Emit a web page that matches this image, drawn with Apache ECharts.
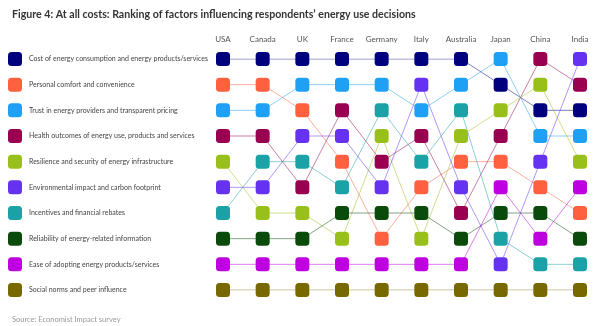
<!DOCTYPE html>
<html>
<head>
<meta charset="utf-8">
<script src="https://cdn.jsdelivr.net/npm/echarts@6/dist/echarts.min.js"></script>
<style>html,body{margin:0;padding:0;background:#fff;}#main{width:600px;height:326px;}</style>
</head>
<body>
<div id="main"></div>
<script>
const countries = ['USA','Canada','UK','France','Germany','Italy','Australia','Japan','China','India'];
const factors = [
  'Cost of energy consumption and energy products/services',
  'Personal comfort and convenience',
  'Trust in energy providers and transparent pricing',
  'Health outcomes of energy use, products and services',
  'Resilience and security of energy infrastructure',
  'Environmental impact and carbon footprint',
  'Incentives and financial rebates',
  'Reliability of energy-related information',
  'Ease of adopting energy products/services',
  'Social norms and peer influence'
];
// rank of each factor in each country (1 = most important)
const costRanks        = [1,1,1,1,1,1,1,2,3,3];
const comfortRanks     = [2,2,3,5,8,6,5,5,6,7];
const trustRanks       = [3,3,2,2,2,3,2,1,4,4];
const healthRanks      = [4,4,6,3,5,4,7,4,1,2];
const resilienceRanks  = [5,7,7,8,4,8,4,3,2,5];
const environmentRanks = [6,6,4,4,6,2,6,9,5,1];
const incentivesRanks  = [7,5,5,6,3,5,3,8,9,9];
const reliabilityRanks = [8,8,8,7,7,7,8,7,7,8];
const easeRanks        = [9,9,9,9,9,9,9,6,8,6];
const socialRanks      = [10,10,10,10,10,10,10,10,10,10];
const rankValues = [costRanks, comfortRanks, trustRanks, healthRanks, resilienceRanks,
  environmentRanks, incentivesRanks, reliabilityRanks, easeRanks, socialRanks];
const colors = ['#00007f','#ff6040','#1ea0f5','#990050','#99c01a','#6432f0','#1aa2a6','#0a4a0a','#be00e0','#786800'];
const FONT = 'Lato';

const series = [];
factors.forEach((f, i) => {
  series.push({
    name: f, type: 'line', data: rankValues[i], showSymbol: false, z: 2,
    itemStyle: {color: colors[i]},
    lineStyle: {color: colors[i], width: 1, opacity: 0.5},
    emphasis: {disabled: true}, silent: true, animation: false
  });
});
factors.forEach((f, i) => {
  series.push({
    name: f, type: 'scatter', data: rankValues[i], z: 5,
    symbol: 'roundRect', symbolSize: 14,
    itemStyle: {color: colors[i], opacity: 1},
    emphasis: {disabled: true}, silent: true, animation: false
  });
});

const chart = echarts.init(document.getElementById('main'));
chart.setOption({
  animation: false,
  textStyle: {fontFamily: FONT},
  title: [
    {text: 'Figure 4: At all costs: Ranking of factors influencing respondents\u2019 energy use decisions',
     left: 7, top: 4, textStyle: {fontSize: 10.6, fontWeight: 'bold', color: '#333', fontFamily: FONT}},
    {text: 'Source: Economist Impact survey', left: 7, top: 311,
     textStyle: {fontSize: 7.5, fontWeight: 'normal', color: '#999', fontFamily: FONT}}
  ],
  legend: {
    orient: 'vertical', left: 8, top: 52,
    itemWidth: 14, itemHeight: 14, itemGap: 11.67,
    icon: 'roundRect', selectedMode: false,
    data: factors,
    textStyle: {fontSize: 7, color: '#444', fontFamily: FONT, padding: [0, 0, 0, 2]},
    padding: 0
  },
  grid: {left: 223, right: 20, top: 59, bottom: 36},
  xAxis: {
    type: 'category', data: countries, position: 'top', boundaryGap: false,
    axisLine: {show: false}, axisTick: {show: false}, splitLine: {show: false},
    axisLabel: {fontSize: 8, color: '#555', margin: 16, interval: 0, fontFamily: FONT}
  },
  yAxis: {
    type: 'value', min: 1, max: 10, interval: 1, inverse: true, show: false
  },
  series: series
});
</script>
</body>
</html>
